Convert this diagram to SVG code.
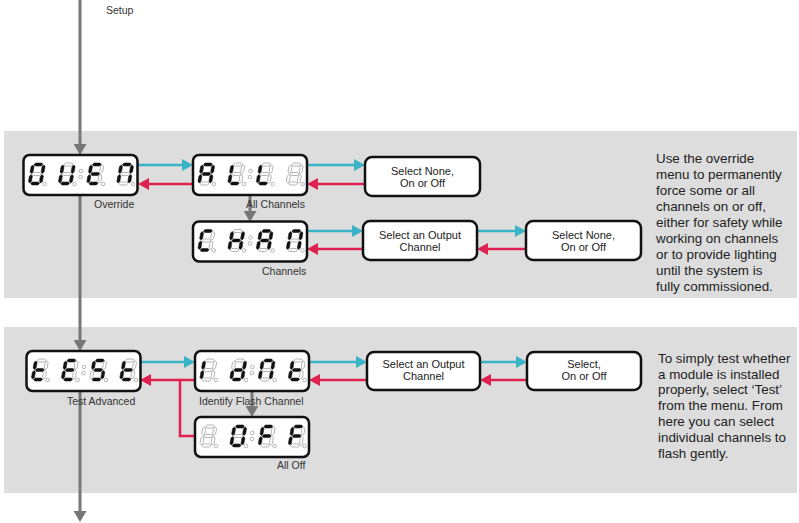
<svg xmlns="http://www.w3.org/2000/svg" xmlns:xlink="http://www.w3.org/1999/xlink" width="799" height="523" viewBox="0 0 799 523">
<style>
.panel{fill:#dddddd}
.lbl{font-family:"Liberation Sans",Arial,sans-serif;font-size:10.5px;fill:#333}
.box{fill:#fff;stroke:#111;stroke-width:2.5}
.bt{font-family:"Liberation Sans",Arial,sans-serif;font-size:11px;fill:#222;text-anchor:middle}
.desc{font-family:"Liberation Sans",Arial,sans-serif;font-size:13.4px;fill:#222}
.cy{stroke:#39b4c6;stroke-width:2.5;fill:none;marker-end:url(#mc)}
.rd{stroke:#e0204f;stroke-width:2.5;fill:none;marker-end:url(#mr)}
.rdl{stroke:#e0204f;stroke-width:2.5;fill:none}
.gy{stroke:#777;stroke-width:3;fill:none;marker-end:url(#mg)}
</style>
<defs>
<marker id="mc" markerUnits="userSpaceOnUse" markerWidth="12" markerHeight="12" refX="5" refY="6" orient="auto"><path d="M0,0 L11,6 L0,12 z" fill="#39b4c6"/></marker>
<marker id="mr" markerUnits="userSpaceOnUse" markerWidth="12" markerHeight="12" refX="5" refY="6" orient="auto"><path d="M0,0 L11,6 L0,12 z" fill="#e0204f"/></marker>
<marker id="mg" markerUnits="userSpaceOnUse" markerWidth="12" markerHeight="13" refX="5" refY="6.5" orient="auto"><path d="M0,0 L11,6.5 L0,13 z" fill="#777"/></marker>
<polygon id="sa" points="2.5,1.5 4,0 10,0 11.5,1.5 10,3 4,3"/>
<polygon id="sg" points="2.5,11 4,9.5 10,9.5 11.5,11 10,12.5 4,12.5"/>
<polygon id="sd" points="2.5,20.5 4,19 10,19 11.5,20.5 10,22 4,22"/>
<polygon id="sf" points="1.5,2 3,3.5 3,9 1.5,10.5 0,9 0,3.5"/>
<polygon id="se" points="1.5,11.5 3,13 3,18.5 1.5,20 0,18.5 0,13"/>
<polygon id="sb" points="12.5,2 14,3.5 14,9 12.5,10.5 11,9 11,3.5"/>
<polygon id="sc" points="12.5,11.5 14,13 14,18.5 12.5,20 11,18.5 11,13"/>
<g id="frame">
<rect x="0" y="0" width="114" height="40" rx="6" fill="#fff" stroke="#111" stroke-width="2.5"/>
<g fill="#fff" stroke="#888" stroke-width="0.6">
<circle cx="21" cy="29" r="1.8"/><circle cx="51" cy="29" r="1.8"/><circle cx="79.5" cy="29" r="1.8"/><circle cx="109.5" cy="29" r="1.8"/>
<circle cx="57.5" cy="16" r="1.8"/><circle cx="57" cy="22" r="1.8"/>
</g>
</g>
<g id="dO" transform="skewX(-10)"><g fill="#111" stroke="#111" stroke-width="0.5"><use xlink:href="#sa"/><use xlink:href="#sb"/><use xlink:href="#sc"/><use xlink:href="#sd"/><use xlink:href="#se"/><use xlink:href="#sf"/></g><g fill="#fff" stroke="#888" stroke-width="0.6"><use xlink:href="#sg"/></g></g>
<g id="dU" transform="skewX(-10)"><g fill="#111" stroke="#111" stroke-width="0.5"><use xlink:href="#sb"/><use xlink:href="#sc"/><use xlink:href="#sd"/><use xlink:href="#se"/><use xlink:href="#sf"/></g><g fill="#fff" stroke="#888" stroke-width="0.6"><use xlink:href="#sa"/><use xlink:href="#sg"/></g></g>
<g id="dE" transform="skewX(-10)"><g fill="#111" stroke="#111" stroke-width="0.5"><use xlink:href="#sa"/><use xlink:href="#sd"/><use xlink:href="#se"/><use xlink:href="#sf"/><use xlink:href="#sg"/></g><g fill="#fff" stroke="#888" stroke-width="0.6"><use xlink:href="#sb"/><use xlink:href="#sc"/></g></g>
<g id="dN" transform="skewX(-10)"><g fill="#111" stroke="#111" stroke-width="0.5"><use xlink:href="#sa"/><use xlink:href="#sb"/><use xlink:href="#sc"/><use xlink:href="#se"/><use xlink:href="#sf"/></g><g fill="#fff" stroke="#888" stroke-width="0.6"><use xlink:href="#sd"/><use xlink:href="#sg"/></g></g>
<g id="dA" transform="skewX(-10)"><g fill="#111" stroke="#111" stroke-width="0.5"><use xlink:href="#sa"/><use xlink:href="#sb"/><use xlink:href="#sc"/><use xlink:href="#se"/><use xlink:href="#sf"/><use xlink:href="#sg"/></g><g fill="#fff" stroke="#888" stroke-width="0.6"><use xlink:href="#sd"/></g></g>
<g id="dL" transform="skewX(-10)"><g fill="#111" stroke="#111" stroke-width="0.5"><use xlink:href="#sd"/><use xlink:href="#se"/><use xlink:href="#sf"/></g><g fill="#fff" stroke="#888" stroke-width="0.6"><use xlink:href="#sa"/><use xlink:href="#sb"/><use xlink:href="#sc"/><use xlink:href="#sg"/></g></g>
<g id="dX" transform="skewX(-10)"><g fill="#fff" stroke="#888" stroke-width="0.6"><use xlink:href="#sa"/><use xlink:href="#sb"/><use xlink:href="#sc"/><use xlink:href="#sd"/><use xlink:href="#se"/><use xlink:href="#sf"/><use xlink:href="#sg"/></g></g>
<g id="dC" transform="skewX(-10)"><g fill="#111" stroke="#111" stroke-width="0.5"><use xlink:href="#sa"/><use xlink:href="#sd"/><use xlink:href="#se"/><use xlink:href="#sf"/></g><g fill="#fff" stroke="#888" stroke-width="0.6"><use xlink:href="#sb"/><use xlink:href="#sc"/><use xlink:href="#sg"/></g></g>
<g id="dH" transform="skewX(-10)"><g fill="#111" stroke="#111" stroke-width="0.5"><use xlink:href="#sb"/><use xlink:href="#sc"/><use xlink:href="#se"/><use xlink:href="#sf"/><use xlink:href="#sg"/></g><g fill="#fff" stroke="#888" stroke-width="0.6"><use xlink:href="#sa"/><use xlink:href="#sd"/></g></g>
<g id="dT" transform="skewX(-10)"><g fill="#111" stroke="#111" stroke-width="0.5"><use xlink:href="#sd"/><use xlink:href="#se"/><use xlink:href="#sf"/><use xlink:href="#sg"/></g><g fill="#fff" stroke="#888" stroke-width="0.6"><use xlink:href="#sa"/><use xlink:href="#sb"/><use xlink:href="#sc"/></g></g>
<g id="dS" transform="skewX(-10)"><g fill="#111" stroke="#111" stroke-width="0.5"><use xlink:href="#sa"/><use xlink:href="#sc"/><use xlink:href="#sd"/><use xlink:href="#sf"/><use xlink:href="#sg"/></g><g fill="#fff" stroke="#888" stroke-width="0.6"><use xlink:href="#sb"/><use xlink:href="#se"/></g></g>
<g id="dI" transform="skewX(-10)"><g fill="#111" stroke="#111" stroke-width="0.5"><use xlink:href="#se"/><use xlink:href="#sf"/></g><g fill="#fff" stroke="#888" stroke-width="0.6"><use xlink:href="#sa"/><use xlink:href="#sb"/><use xlink:href="#sc"/><use xlink:href="#sd"/><use xlink:href="#sg"/></g></g>
<g id="dD" transform="skewX(-10)"><g fill="#111" stroke="#111" stroke-width="0.5"><use xlink:href="#sb"/><use xlink:href="#sc"/><use xlink:href="#sd"/><use xlink:href="#se"/><use xlink:href="#sg"/></g><g fill="#fff" stroke="#888" stroke-width="0.6"><use xlink:href="#sa"/><use xlink:href="#sf"/></g></g>
<g id="dF" transform="skewX(-10)"><g fill="#111" stroke="#111" stroke-width="0.5"><use xlink:href="#sa"/><use xlink:href="#se"/><use xlink:href="#sf"/><use xlink:href="#sg"/></g><g fill="#fff" stroke="#888" stroke-width="0.6"><use xlink:href="#sb"/><use xlink:href="#sc"/><use xlink:href="#sd"/></g></g>
</defs>

<rect width="799" height="523" fill="#fff"/>
<rect class="panel" x="4" y="131" width="793" height="167"/>
<rect class="panel" x="4" y="327" width="793" height="166"/>

<text class="lbl" x="106" y="14">Setup</text>

<g id="connectors">
<line class="gy" x1="80" y1="0" x2="80" y2="149"/>
<line class="gy" x1="80" y1="195" x2="80" y2="345"/>
<line class="gy" x1="80" y1="391" x2="80" y2="516"/>
<line class="gy" x1="250" y1="195" x2="250" y2="216"/>
<line class="gy" x1="252" y1="391" x2="252" y2="411"/>

<line class="cy" x1="138" y1="165" x2="187" y2="165"/>
<line class="rd" x1="193" y1="184" x2="144" y2="184"/>
<line class="cy" x1="307" y1="165" x2="359" y2="165"/>
<line class="rd" x1="365" y1="184" x2="313" y2="184"/>
<line class="cy" x1="307" y1="231" x2="357" y2="231"/>
<line class="rd" x1="363" y1="249" x2="313" y2="249"/>
<line class="cy" x1="477" y1="231" x2="520" y2="231"/>
<line class="rd" x1="526" y1="249" x2="483" y2="249"/>

<line class="cy" x1="140" y1="362" x2="189" y2="362"/>
<line class="rd" x1="195" y1="380" x2="146" y2="380"/>
<polyline class="rdl" points="180,380 180,436 195,436"/>
<line class="cy" x1="309" y1="362" x2="361" y2="362"/>
<line class="rd" x1="367" y1="380" x2="315" y2="380"/>
<line class="cy" x1="480" y1="362" x2="521" y2="362"/>
<line class="rd" x1="527" y1="380" x2="486" y2="380"/>
</g>

<g id="n-override" transform="translate(23.5,155)">
<use xlink:href="#frame"/>
<use xlink:href="#dO" x="8.2" y="8"/><use xlink:href="#dU" x="38.2" y="8"/><use xlink:href="#dE" x="66.6" y="8"/><use xlink:href="#dN" x="96.6" y="8"/>
</g>
<text class="lbl" x="94" y="208">Override</text>

<g id="n-allch" transform="translate(193,155)">
<use xlink:href="#frame"/>
<use xlink:href="#dA" x="8.2" y="8"/><use xlink:href="#dL" x="38.2" y="8"/><use xlink:href="#dL" x="66.6" y="8"/><use xlink:href="#dX" x="96.6" y="8"/>
</g>
<text class="lbl" x="246" y="208">All Channels</text>

<g id="n-channels" transform="translate(193,221.5)">
<use xlink:href="#frame"/>
<use xlink:href="#dC" x="8.2" y="8"/><use xlink:href="#dH" x="38.2" y="8"/><use xlink:href="#dA" x="66.6" y="8"/><use xlink:href="#dN" x="96.6" y="8"/>
</g>
<text class="lbl" x="262" y="275">Channels</text>

<g id="n-sel1">
<rect class="box" x="365" y="157" width="115" height="39" rx="7"/>
<text class="bt" x="422.5" y="174.5">Select None,</text>
<text class="bt" x="422.5" y="186.5">On or Off</text>
</g>
<g id="n-sel2">
<rect class="box" x="363" y="221" width="114" height="39" rx="7"/>
<text class="bt" x="420" y="238.5">Select an Output</text>
<text class="bt" x="420" y="250.5">Channel</text>
</g>
<g id="n-sel3">
<rect class="box" x="526" y="221" width="115" height="39" rx="7"/>
<text class="bt" x="583.5" y="238.5">Select None,</text>
<text class="bt" x="583.5" y="250.5">On or Off</text>
</g>

<g id="n-test" transform="translate(26.5,351)">
<use xlink:href="#frame"/>
<use xlink:href="#dT" x="8.2" y="8"/><use xlink:href="#dE" x="38.2" y="8"/><use xlink:href="#dS" x="66.6" y="8"/><use xlink:href="#dT" x="96.6" y="8"/>
</g>
<text class="lbl" x="67" y="405">Test Advanced</text>

<g id="n-ident" transform="translate(195,351)">
<use xlink:href="#frame"/>
<use xlink:href="#dI" x="8.2" y="8"/><use xlink:href="#dD" x="38.2" y="8"/><use xlink:href="#dN" x="66.6" y="8"/><use xlink:href="#dT" x="96.6" y="8"/>
</g>
<text class="lbl" x="199" y="405">Identify Flash Channel</text>

<g id="n-alloff" transform="translate(195,417)">
<use xlink:href="#frame"/>
<use xlink:href="#dX" x="8.2" y="8"/><use xlink:href="#dO" x="38.2" y="8"/><use xlink:href="#dF" x="66.6" y="8"/><use xlink:href="#dF" x="96.6" y="8"/>
</g>
<text class="lbl" x="277" y="468.5">All Off</text>

<g id="n-sel4">
<rect class="box" x="367" y="352" width="113" height="38" rx="7"/>
<text class="bt" x="423.5" y="367.5">Select an Output</text>
<text class="bt" x="423.5" y="379.5">Channel</text>
</g>
<g id="n-sel5">
<rect class="box" x="527" y="352" width="114" height="38" rx="7"/>
<text class="bt" x="584" y="367.5">Select,</text>
<text class="bt" x="584" y="379.5">On or Off</text>
</g>

<text class="desc" x="656" y="163.3">
<tspan x="656" y="163.3">Use the override</tspan>
<tspan x="656" y="179.3">menu to permanently</tspan>
<tspan x="656" y="195.3">force some or all</tspan>
<tspan x="656" y="211.3">channels on or off,</tspan>
<tspan x="656" y="227.3">either for safety while</tspan>
<tspan x="656" y="243.3">working on channels</tspan>
<tspan x="656" y="259.3">or to provide lighting</tspan>
<tspan x="656" y="275.3">until the system is</tspan>
<tspan x="656" y="291.3">fully commissioned.</tspan>
</text>
<text class="desc" x="658" y="362.7">
<tspan x="658" y="362.7">To simply test whether</tspan>
<tspan x="658" y="378.5">a module is installed</tspan>
<tspan x="658" y="394.3">properly, select ‘Test’</tspan>
<tspan x="658" y="410.1">from the menu. From</tspan>
<tspan x="658" y="425.9">here you can select</tspan>
<tspan x="658" y="441.7">individual channels to</tspan>
<tspan x="658" y="457.5">flash gently.</tspan>
</text>
</svg>
